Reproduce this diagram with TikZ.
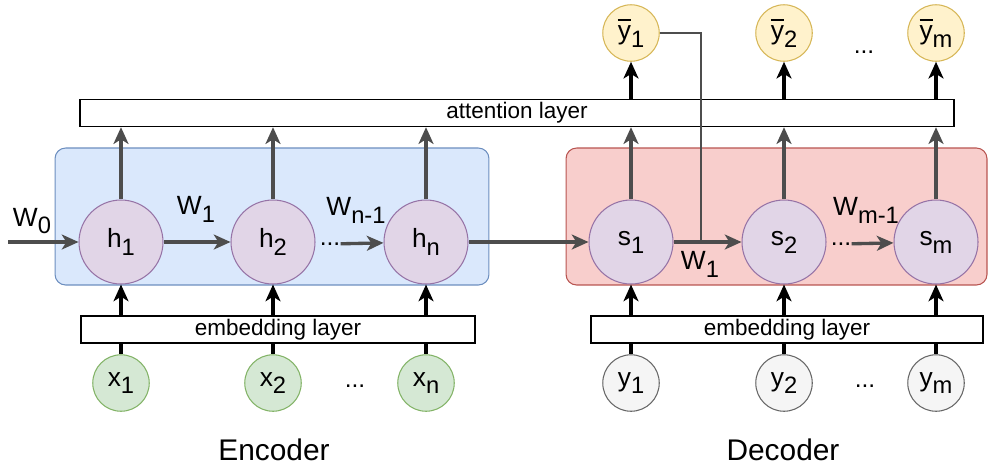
\documentclass[tikz,border=0pt]{standalone}
\usepackage{fontspec}
\setmainfont{Liberation Sans}
\usetikzlibrary{arrows.meta,positioning}

\definecolor{encfill}{HTML}{DAE8FC}
\definecolor{encline}{HTML}{6C8EBF}
\definecolor{decfill}{HTML}{F8CECC}
\definecolor{decline}{HTML}{B85450}
\definecolor{hidfill}{HTML}{E1D5E7}
\definecolor{hidline}{HTML}{9673A6}
\definecolor{infill}{HTML}{D5E8D4}
\definecolor{inline}{HTML}{82B366}
\definecolor{tgtfill}{HTML}{F5F5F5}
\definecolor{tgtline}{HTML}{666666}
\definecolor{outfill}{HTML}{FFF2CC}
\definecolor{outline}{HTML}{D6B656}
\definecolor{arrgray}{HTML}{4D4D4D}

\newcommand{\lsub}[1]{\raisebox{-0.3em}{\scalebox{0.9}{#1}}}
\newcommand{\ybar}{\leavevmode\rlap{\raisebox{0.7em}{\rule{0.5em}{0.07em}}}y}

\tikzset{
  block/.style={rectangle, rounded corners=6pt, line width=0.6pt, minimum width=#1, minimum height=2.74cm},
  layer/.style={rectangle, draw=black, fill=white, line width=0.8pt, minimum width=#1, minimum height=0.54cm, inner sep=0pt, font=\fontsize{12.8}{14}\selectfont},
  hid/.style={circle, draw=hidline, fill=hidfill, line width=0.6pt, minimum size=1.68cm, inner sep=0pt, font=\fontsize{15}{17}\selectfont},
  small/.style={circle, line width=0.6pt, minimum size=1.13cm, inner sep=0pt, font=\fontsize{15}{17}\selectfont},
  wlab/.style={inner sep=0pt, font=\fontsize{15}{17}\selectfont},
  dots/.style={inner sep=0pt, font=\fontsize{14}{16}\selectfont},
  garrow/.style={->, color=arrgray, line width=1.9pt},
  barrow/.style={->, color=black, line width=1.9pt}
}

\begin{document}
\begin{tikzpicture}[x=0.02cm, y=-0.02cm, >={Stealth[length=9.5pt,width=8.5pt,inset=2.6pt]}]
  \useasboundingbox (0,0) rectangle (989,468);

  \node[block=8.68cm, draw=encline, fill=encfill] (enc) at (272,216.5) {};
  \node[block=8.42cm, draw=decline, fill=decfill] (dec) at (776.5,216.5) {};

  \node[layer=17.48cm] (att) at (517,113) {attention layer};
  \node[layer=7.88cm] (embE) at (278,329.5) {embedding layer};
  \node[layer=7.84cm] (embD) at (787,329.5) {embedding layer};

  % encoder
  \node[hid] (h1) at (121,242) {h\lsub{1}};
  \node[hid] (h2) at (273,242) {h\lsub{2}};
  \node[hid] (hn) at (426,242) {h\lsub{n}};
  \node[small, draw=inline, fill=infill] (x1) at (121,383) {x\lsub{1}};
  \node[small, draw=inline, fill=infill] (x2) at (273,383) {x\lsub{2}};
  \node[small, draw=inline, fill=infill] (xn) at (426,383) {x\lsub{n}};
  \node[dots] (dx) at (355,386) {...};
  \node[dots] (dE) at (330,244) {...};
  \coordinate (w0s) at (8,242);
  \node[wlab] (W0) at (32,221) {W\lsub{0}};
  \node[wlab] (W1e) at (196,209) {W\lsub{1}};
  \node[wlab] (Wn) at (356,210) {W\lsub{n-1}};

  % decoder
  \node[hid] (s1) at (631,242) {s\lsub{1}};
  \node[hid] (s2) at (784,242) {s\lsub{2}};
  \node[hid] (sm) at (936,242) {s\lsub{m}};
  \node[small, draw=tgtline, fill=tgtfill] (y1) at (631,383) {y\lsub{1}};
  \node[small, draw=tgtline, fill=tgtfill] (y2) at (784,383) {y\lsub{2}};
  \node[small, draw=tgtline, fill=tgtfill] (ym) at (936,383) {y\lsub{m}};
  \node[dots] (dy) at (865,386) {...};
  \node[dots] (dD) at (841,244) {...};
  \node[small, draw=outline, fill=outfill] (yb1) at (631,33) {\ybar\lsub{1}};
  \node[small, draw=outline, fill=outfill] (yb2) at (784,33) {\ybar\lsub{2}};
  \node[small, draw=outline, fill=outfill] (ybm) at (936,33) {\ybar\lsub{m}};
  \node[dots] (dyb) at (864,52) {...};
  \node[wlab] (W1d) at (700,264) {W\lsub{1}};
  \node[wlab] (Wm) at (866,210) {W\lsub{m-1}};
  \coordinate (j1) at (701,242);

  \node[font=\fontsize{17}{19}\selectfont] (encl) at (274,450) {Encoder};
  \node[font=\fontsize{17}{19}\selectfont] (decl) at (783,450) {Decoder};

  \path[garrow]
    (w0s) edge (h1)
    (h1) edge (h2)
    (dE) edge (hn)
    (hn) edge (s1)
    (s1) edge (s2)
    (dD) edge (sm)
    (h1) edge (h1 |- att.south)
    (h2) edge (h2 |- att.south)
    (hn) edge (hn |- att.south)
    (s1) edge (s1 |- att.south)
    (s2) edge (s2 |- att.south)
    (sm) edge (sm |- att.south);

  \draw[arrgray, line width=1.6pt] (yb1.east) -| (j1);

  \path[barrow]
    (x1) edge[-] (x1 |- embE.south)
    (x2) edge[-] (x2 |- embE.south)
    (xn) edge[-] (xn |- embE.south)
    (y1) edge[-] (y1 |- embD.south)
    (y2) edge[-] (y2 |- embD.south)
    (ym) edge[-] (ym |- embD.south)
    (x1 |- embE.north) edge (h1)
    (x2 |- embE.north) edge (h2)
    (xn |- embE.north) edge (hn)
    (y1 |- embD.north) edge (s1)
    (y2 |- embD.north) edge (s2)
    (ym |- embD.north) edge (sm)
    (yb1 |- att.north) edge (yb1)
    (yb2 |- att.north) edge (yb2)
    (ybm |- att.north) edge (ybm);
\end{tikzpicture}
\end{document}
